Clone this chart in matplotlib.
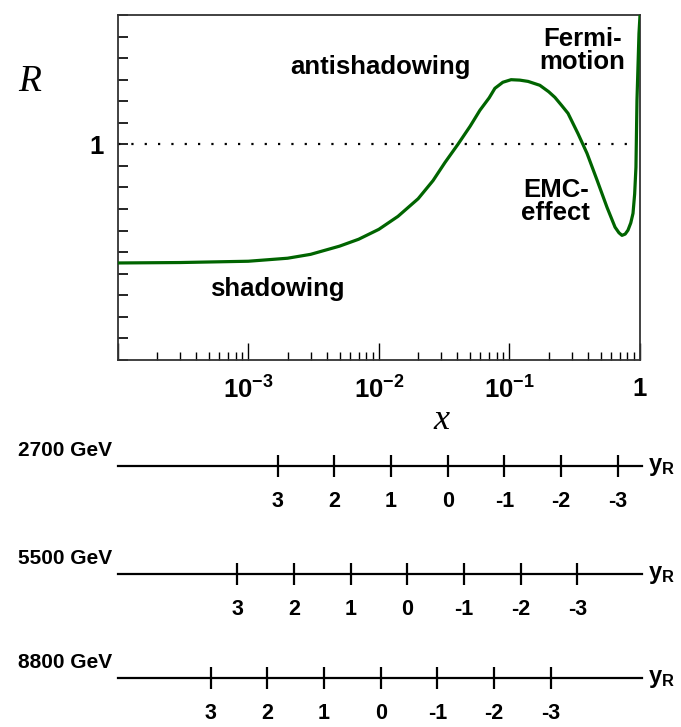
import numpy as np
import matplotlib.pyplot as plt
from matplotlib.ticker import FixedLocator, FixedFormatter, NullLocator, NullFormatter

plt.rcParams['font.family'] = 'Liberation Sans'
plt.rcParams['font.weight'] = 'bold'
plt.rcParams['mathtext.fontset'] = 'custom'
plt.rcParams['mathtext.bf'] = 'Liberation Sans:bold'
plt.rcParams['mathtext.rm'] = 'Liberation Sans:bold'
plt.rcParams['mathtext.default'] = 'bf'

# nuclear modification ratio R(x)
x_pts = [1e-4, 3e-4, 1e-3, 2e-3, 3e-3, 5e-3, 7e-3, 1e-2, 1.4e-2, 2e-2,
         2.6e-2, 3.21e-2, 4.03e-2, 5e-2, 5.94e-2, 7e-2, 7.74e-2, 8.9e-2,
         0.103, 0.12, 0.139, 0.171, 0.2, 0.223, 0.25, 0.281, 0.335, 0.393,
         0.469, 0.559, 0.644, 0.69, 0.728, 0.77, 0.809, 0.85, 0.884, 0.91,
         0.931, 0.948, 0.965, 0.982, 1.0]
R_pts = [0.725, 0.726, 0.729, 0.736, 0.745, 0.764, 0.780, 0.803, 0.833, 0.874,
         0.916, 0.958, 1.000, 1.042, 1.079, 1.108, 1.130, 1.144,
         1.150, 1.149, 1.146, 1.137, 1.122, 1.109, 1.091, 1.072, 1.025, 0.979,
         0.917, 0.854, 0.808, 0.795, 0.789, 0.792, 0.801, 0.818, 0.840, 0.885,
         0.947, 1.102, 1.180, 1.257, 1.299]

# rapidity scales: x = M / sqrt(s) * exp(-y)
energies = [2700, 5500, 8800]
energy_labels = ['2700 GeV', '5500 GeV', '8800 GeV']
rapidities = [3, 2, 1, 0, -1, -2, -3]
M_Z = 91.2

W, H = 681, 727
fig = plt.figure(figsize=(W / 100, H / 100), dpi=100)


def box(l, t, r, b):
    return [l / W, 1 - b / H, (r - l) / W, (b - t) / H]


ax = fig.add_axes(box(117.7, 15, 640, 360))
ax.plot(x_pts, R_pts, color='#006400', lw=2.3, zorder=3)
ax.plot([1e-4, 0.97], [1, 1], color='black', lw=1.6, ls=(0, (1, 5)))
ax.set_xscale('log')
ax.set_xlim(1e-4, 1)
ax.set_ylim(0.5, 1.3)

ax.xaxis.set_major_locator(FixedLocator([1e-4, 1e-3, 1e-2, 1e-1, 1]))
ax.xaxis.set_major_formatter(FixedFormatter(['', r'$10^{-3}$', r'$10^{-2}$', r'$10^{-1}$', '1']))
minors = [m * 10.0 ** e for e in range(-4, 0) for m in range(2, 10)]
ax.xaxis.set_minor_locator(FixedLocator(minors))
ax.xaxis.set_minor_formatter(NullFormatter())
yt = np.round(np.arange(0.5, 1.301, 0.05), 2)
ax.yaxis.set_major_locator(FixedLocator(yt))
ax.yaxis.set_major_formatter(FixedFormatter(['1' if abs(v - 1) < 1e-6 else '' for v in yt]))
ax.tick_params(axis='x', which='major', direction='in', length=12, width=1.0,
               labelsize=18.5, pad=12)
ax.tick_params(axis='x', which='minor', direction='in', length=6, width=1.0)
ax.tick_params(axis='y', which='major', direction='in', length=7.5, width=1.2,
               labelsize=18.5, pad=10)
ax.tick_params(top=False, right=False, which='both')
for s in ax.spines.values():
    s.set_linewidth(1.3)
    s.set_color('#333333')

ax.text(0.0102, 1.18, 'antishadowing', fontsize=18.5, ha='center', va='center')
ax.text(0.00166, 0.664, 'shadowing', fontsize=18.5, ha='center', va='center')
ax.text(0.36, 1.218, 'Fermi-\nmotion', fontsize=18.5, ha='center', va='center', linespacing=0.95)
ax.text(0.227, 0.868, 'EMC-\neffect', fontsize=18.5, ha='center', va='center', linespacing=0.95)

fig.text(30 / W, 1 - 82 / H, 'R', fontsize=27, family='Liberation Serif',
         style='italic', weight='normal', ha='center', va='center')
fig.text(441 / W, 1 - 420 / H, 'x', fontsize=26, family='Liberation Serif',
         style='italic', weight='normal', ha='center', va='center')

line_rows = [466, 574, 678]
for e, lab, yl in zip(energies, energy_labels, line_rows):
    a = fig.add_axes(box(117.7, yl - 20, 642, yl + 20))
    a.patch.set_visible(False)
    a.set_xscale('log')
    a.set_xlim(1e-4, 1 * 10 ** (2.3 / 130.6))
    a.set_ylim(-1, 1)
    for k in ['top', 'left', 'right']:
        a.spines[k].set_visible(False)
    a.spines['bottom'].set_position(('data', 0))
    a.spines['bottom'].set_linewidth(1.6)
    a.yaxis.set_major_locator(NullLocator())
    a.xaxis.set_minor_locator(NullLocator())
    xs = [M_Z / e * np.exp(-y) for y in rapidities]
    a.xaxis.set_major_locator(FixedLocator(xs))
    a.xaxis.set_major_formatter(FixedFormatter([str(y) for y in rapidities]))
    a.tick_params(axis='x', direction='inout', length=16, width=1.6,
                  labelsize=15.5, pad=10)
    fig.text(18 / W, 1 - (yl - 15) / H, lab, fontsize=15, ha='left', va='center')
    fig.text(648 / W, 1 - yl / H, r'$y_R$', fontsize=17, ha='left', va='center')

fig.savefig('out.png', dpi=100)
